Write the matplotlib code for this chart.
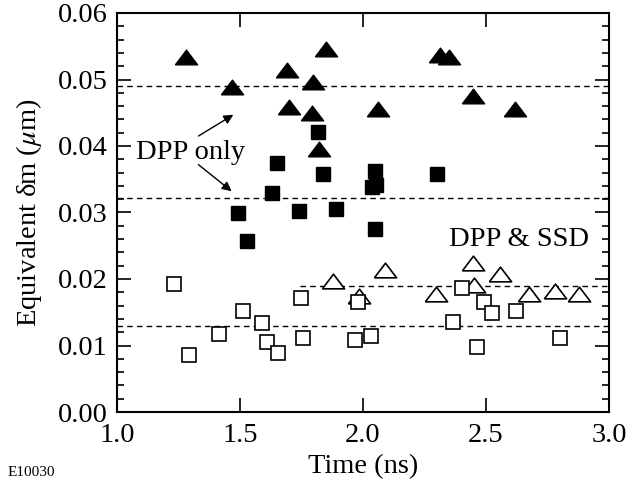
import numpy as np
import matplotlib
matplotlib.use("Agg")
import matplotlib.pyplot as plt
from matplotlib.ticker import MultipleLocator, FormatStrFormatter

#---------------------------------
# DATA
#---------------------------------

# DPP only, filled triangles
t_dpp_tri = [1.280, 1.466, 1.693, 1.797, 1.851, 1.699, 1.793, 2.060, 1.822,
             2.312, 2.350, 2.446, 2.618]
dm_dpp_tri = [0.0534, 0.0489, 0.0514, 0.0496, 0.0546, 0.0459, 0.0450, 0.0456,
              0.0395, 0.0537, 0.0534, 0.0475, 0.0456]

# DPP only, filled squares
t_dpp_sq = [1.818, 1.651, 1.838, 2.049, 2.035, 2.051, 1.632, 2.302, 1.493,
            1.530, 1.741, 1.889, 2.047]
dm_dpp_sq = [0.0421, 0.0374, 0.0358, 0.0363, 0.0338, 0.0341, 0.0330, 0.0358,
             0.0299, 0.0257, 0.0302, 0.0305, 0.0275]

# DPP & SSD, open triangles
t_ssd_tri = [1.877, 1.983, 2.090, 2.298, 2.449, 2.452, 2.556, 2.673, 2.779, 2.878]
dm_ssd_tri = [0.0197, 0.0175, 0.0214, 0.0178, 0.0224, 0.0191, 0.0208, 0.0178,
              0.0182, 0.0178]

# DPP & SSD, open squares
t_ssd_sq = [1.230, 1.291, 1.415, 1.511, 1.591, 1.608, 1.653, 1.749, 1.757,
            1.978, 1.969, 2.032, 2.401, 2.364, 2.490, 2.526, 2.622, 2.463, 2.802]
dm_ssd_sq = [0.0193, 0.0085, 0.0117, 0.0152, 0.0134, 0.0105, 0.0089, 0.0171,
             0.0111, 0.0165, 0.0108, 0.0115, 0.0187, 0.0136, 0.0165, 0.0149,
             0.0152, 0.0098, 0.0111]

# mean levels (dashed): value, start time, end time
mean_levels = [0.0490, 0.0322, 0.0190, 0.0130]
mean_starts = [1.0, 1.0, 1.743, 1.0]
mean_ends = [3.0, 3.0, 3.0, 3.0]

#---------------------------------
# STYLE
#---------------------------------

plt.rcParams["font.family"] = ["Liberation Serif", "DejaVu Serif"]
plt.rcParams["mathtext.fontset"] = "stix"
fs = 20.5

# wide flat triangle marker
tri = [(-1.0, -0.66), (1.0, -0.66), (0.0, 0.66), (-1.0, -0.66)]

fig = plt.figure(figsize=(6.39, 4.87), dpi=100)
ax = fig.add_axes([117/639, 1-412/487, (609-117)/639, (412-13)/487])

# dashed mean lines
for lev, x0, x1 in zip(mean_levels, mean_starts, mean_ends):
	ax.plot([x0, x1], [lev, lev], ls=(0, (4, 3)), color="k", lw=1.0, zorder=1)

ax.plot(t_ssd_tri, dm_ssd_tri, ls="none", marker=tri, ms=16, mfc="white",
        mec="k", mew=1.2, zorder=3)
ax.plot(t_ssd_sq, dm_ssd_sq, ls="none", marker="s", ms=10.3, mfc="white",
        mec="k", mew=1.2, zorder=4)
ax.plot(t_dpp_tri, dm_dpp_tri, ls="none", marker=tri, ms=16, mfc="k",
        mec="k", mew=1.0, zorder=3)
ax.plot(t_dpp_sq, dm_dpp_sq, ls="none", marker="s", ms=10.3, mfc="k",
        mec="k", mew=1.0, zorder=4)

# labels and arrows
ax.text(1.077, 0.038, "DPP only", fontsize=fs, va="baseline", ha="left")
ax.text(2.349, 0.025, "DPP & SSD", fontsize=fs, va="baseline", ha="left")
arrow = dict(arrowstyle="-|>", lw=1.0, color="k", mutation_scale=14,
             shrinkA=0, shrinkB=0)
ax.annotate("", xy=(1.473, 0.0447), xytext=(1.331, 0.0415), arrowprops=arrow)
ax.annotate("", xy=(1.466, 0.0332), xytext=(1.331, 0.0372), arrowprops=arrow)

# axes
ax.set_xlim(1.0, 3.0)
ax.set_ylim(0.0, 0.06)
ax.xaxis.set_major_locator(MultipleLocator(0.5))
ax.xaxis.set_major_formatter(FormatStrFormatter("%.1f"))
ax.yaxis.set_major_locator(MultipleLocator(0.01))
ax.yaxis.set_minor_locator(MultipleLocator(0.002))
ax.yaxis.set_major_formatter(FormatStrFormatter("%.2f"))
ax.tick_params(which="both", direction="in", top=True, right=True,
               labelsize=fs, width=1.2)
ax.tick_params(which="major", length=10)
ax.tick_params(which="minor", length=5)
ax.tick_params(axis="x", pad=8)
ax.tick_params(axis="y", pad=7)
for sp in ax.spines.values():
	sp.set_linewidth(1.5)

ax.set_xlabel("Time (ns)", fontsize=fs, labelpad=4)
ax.set_ylabel(r"Equivalent δm ($\mu$m)", fontsize=fs, labelpad=10)

fig.text(8/639, 1-473/487, "E10030", fontsize=11, va="center", ha="left")

fig.savefig("out.png", dpi=100)
